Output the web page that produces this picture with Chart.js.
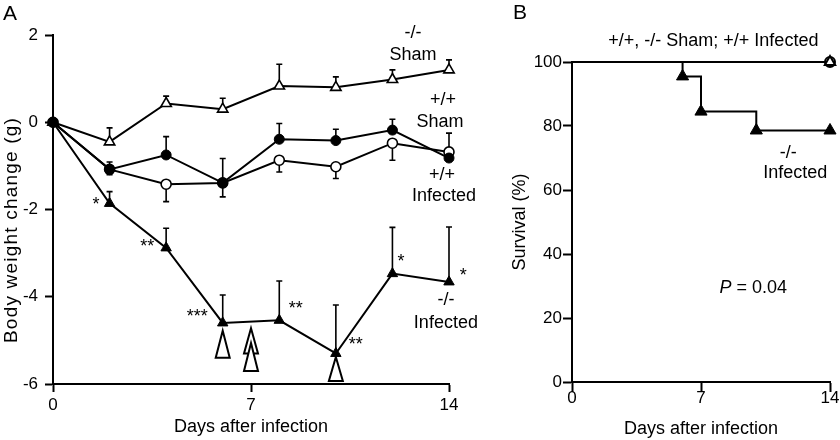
<!DOCTYPE html>
<html>
<head>
<meta charset="utf-8">
<script src="https://cdn.jsdelivr.net/npm/chart.js@4.4.0/dist/chart.umd.min.js"></script>
<style>
  body { margin: 0; background: #fff; }
  #wrap { position: relative; width: 840px; height: 440px; }
  #chartA { position: absolute; left: 0; top: 0; }
  #chartB { position: absolute; left: 480px; top: 0; }
</style>
</head>
<body>
<div id="wrap">
  <canvas id="chartA" width="480" height="440"></canvas>
  <canvas id="chartB" width="360" height="440"></canvas>
</div>
<script>
// ---- Panel A: body weight change (g), mean with one-sided SEM bars
const days = [0, 2, 4, 6, 8, 10, 12, 14];
const shamWT = [0, -1.08, -0.75, -1.39, -0.39, -0.42, -0.18, -0.82];
const shamWTErr = [0, 0.17, 0.42, 0.56, 0.36, 0.26, 0.25, 0.57];
const infWT = [0, -1.08, -1.42, -1.39, -0.87, -1.02, -0.48, -0.68];
const infWTErr = [0, 0.12, 0.40, 0.32, 0.27, 0.27, 0.39, 0.10];
const shamKO = [0, -0.45, 0.43, 0.30, 0.83, 0.80, 0.98, 1.20];
const shamKOErr = [0, 0.32, 0.17, 0.25, 0.50, 0.24, 0.22, 0.23];
const infKO = [0, -1.86, -2.88, -4.60, -4.54, -5.30, -3.47, -3.66];
const infKOErr = [0, 0.27, 0.45, 0.64, 0.90, 1.11, 1.06, 1.26];

// significance marks next to the -/- infected curve
const starText = ['*', '**', '***', '**', '**', '*', '*'];
const starDays = [1.52, 3.33, 5.1, 8.58, 10.7, 12.3, 14.5];
const starVals = [-1.79, -2.75, -4.35, -4.17, -5.0, -3.1, -3.4];

// open arrows under the curve (deaths)
const arrowDays = [6, 7, 7, 10];
const arrowTops = [-4.78, -4.72, -5.06, -5.38];
const arrowBases = [-5.4, -5.3, -5.7, -5.93];

const xTicksA = [0, 7, 14];
const yTicksA = [2, 0, -2, -4, -6];

// ---- Panel B: survival (%)
const survDaysCtrl = [0, 14];
const survCtrl = [100, 100];
const survDaysKO = [0, 6, 7, 10, 14];
const survKO = [100, 95.5, 84.5, 78.6, 78.6];
const xTicksB = [0, 7, 14];
const yTicksB = [0, 20, 40, 60, 80, 100];

const FONT = "'Liberation Sans', Arial, Helvetica, sans-serif";
Chart.defaults.font.family = FONT;
Chart.defaults.color = '#000';

const pts = (xs, ys) => xs.map((x, i) => ({ x: x, y: ys[i] }));

const errorBars = {
  id: 'errorBars',
  beforeDatasetsDraw(chart) {
    const ctx = chart.ctx;
    const ys = chart.scales.y;
    chart.data.datasets.forEach((ds, i) => {
      if (!ds.errors) return;
      const meta = chart.getDatasetMeta(i);
      ctx.save();
      ctx.strokeStyle = '#000';
      ctx.lineWidth = 1.6;
      meta.data.forEach((p, j) => {
        const e = ds.errors[j];
        if (!e) return;
        const end = ys.getPixelForValue(ds.data[j].y + ds.errDir * e);
        ctx.beginPath();
        ctx.moveTo(p.x, p.y);
        ctx.lineTo(p.x, end);
        ctx.moveTo(p.x - 3, end);
        ctx.lineTo(p.x + 3, end);
        ctx.stroke();
      });
      ctx.restore();
    });
  }
};

const arrows = {
  id: 'arrows',
  afterDatasetsDraw(chart, args, opts) {
    if (!opts.days) return;
    const ctx = chart.ctx;
    const { x, y } = chart.scales;
    ctx.save();
    ctx.lineWidth = 2;
    ctx.strokeStyle = '#000';
    ctx.fillStyle = '#fff';
    opts.days.forEach((d, i) => {
      const px = x.getPixelForValue(d);
      const top = y.getPixelForValue(opts.tops[i]);
      const base = y.getPixelForValue(opts.bases[i]);
      ctx.beginPath();
      ctx.moveTo(px, top);
      ctx.lineTo(px + 7, base);
      ctx.lineTo(px - 7, base);
      ctx.closePath();
      ctx.fill();
      ctx.stroke();
    });
    ctx.restore();
  }
};

const textLabels = {
  id: 'textLabels',
  afterDraw(chart, args, opts) {
    const ctx = chart.ctx;
    const { x, y } = chart.scales;
    ctx.save();
    ctx.fillStyle = '#000';
    ctx.textBaseline = 'middle';
    (opts.items || []).forEach(t => {
      const px = t.px !== undefined ? t.px : x.getPixelForValue(t.x);
      const py = t.py !== undefined ? t.py : y.getPixelForValue(t.y);
      if (t.parts) {
        let w = 0;
        t.parts.forEach(p => { ctx.font = p.font; w += ctx.measureText(p.text).width; });
        let cx = px - w / 2;
        ctx.textAlign = 'left';
        t.parts.forEach(p => { ctx.font = p.font; ctx.fillText(p.text, cx, py); cx += ctx.measureText(p.text).width; });
        return;
      }
      ctx.font = t.font || '18px ' + FONT;
      ctx.textAlign = t.align || 'center';
      if (t.rotate) {
        ctx.save();
        ctx.translate(px, py);
        ctx.rotate(t.rotate);
        if (t.spacing) ctx.letterSpacing = t.spacing;
        ctx.fillText(t.text, 0, 0);
        ctx.restore();
        return;
      }
      ctx.fillText(t.text, px, py + (t.dy || 0));
    });
    ctx.restore();
  }
};

function axisStyle(extra) {
  return Object.assign({
    grid: { display: true, drawOnChartArea: false, drawTicks: true, tickLength: 8, tickWidth: 2, tickColor: '#000', color: '#000' },
    border: { display: true, color: '#000', width: 2 },
    ticks: { color: '#000', font: { size: 17 }, maxRotation: 0, autoSkip: false }
  }, extra);
}

const labelsA = [
  { text: '-/-', x: 12.73, y: 2.05 },
  { text: 'Sham', x: 12.73, y: 1.54 },
  { text: '+/+', x: 13.79, y: 0.51 },
  { text: 'Sham', x: 13.68, y: 0.0 },
  { text: '+/+', x: 13.75, y: -1.21 },
  { text: 'Infected', x: 13.82, y: -1.69 },
  { text: '-/-', x: 13.89, y: -4.08 },
  { text: 'Infected', x: 13.89, y: -4.61 },
  { text: 'A', px: 10, py: 14, font: '21px ' + FONT },
  // y axis title, a little wider than the tick font as in the original figure
  { text: 'Body weight change (g)', px: 12, py: 230, rotate: -Math.PI / 2, spacing: '1.2px', font: '19px ' + FONT }
];
starText.forEach((s, i) => labelsA.push({ text: s, x: starDays[i], y: starVals[i], dy: 5 }));

new Chart(document.getElementById('chartA'), {
  type: 'line',
  data: {
    datasets: [
      { label: '+/+ Sham', data: pts(days, shamWT), errors: shamWTErr, errDir: 1,
        borderColor: '#000', borderWidth: 2, pointStyle: 'circle', pointRadius: 5,
        pointBackgroundColor: '#000', pointBorderColor: '#000', pointBorderWidth: 1, clip: false },
      { label: '+/+ Infected', data: pts(days, infWT), errors: infWTErr, errDir: -1,
        borderColor: '#000', borderWidth: 2, pointStyle: 'circle', pointRadius: 5,
        pointBackgroundColor: '#fff', pointBorderColor: '#000', pointBorderWidth: 1.6, clip: false },
      { label: '-/- Sham', data: pts(days, shamKO), errors: shamKOErr, errDir: 1,
        borderColor: '#000', borderWidth: 2, pointStyle: 'triangle', pointRadius: 6,
        pointBackgroundColor: '#fff', pointBorderColor: '#000', pointBorderWidth: 1.6, clip: false },
      { label: '-/- Infected', data: pts(days, infKO), errors: infKOErr, errDir: 1,
        borderColor: '#000', borderWidth: 2, pointStyle: 'triangle', pointRadius: 6,
        pointBackgroundColor: '#000', pointBorderColor: '#000', pointBorderWidth: 1, clip: false }
    ]
  },
  options: {
    responsive: false,
    animation: false,
    devicePixelRatio: 1,
    layout: { padding: { left: 0, top: 35, right: 31, bottom: 0 } },
    plugins: {
      legend: { display: false },
      tooltip: { enabled: false },
      arrows: { days: arrowDays, tops: arrowTops, bases: arrowBases },
      textLabels: { items: labelsA }
    },
    scales: {
      x: axisStyle({
        type: 'linear', min: 0, max: 14,
        afterBuildTicks: s => { s.ticks = xTicksA.map(v => ({ value: v })); },
        ticks: { color: '#000', font: { size: 17 }, maxRotation: 0, autoSkip: false, padding: 3 },
        title: { display: true, text: 'Days after infection', font: { size: 18 }, color: '#000', padding: { top: 0, bottom: 2 } },
        afterFit: s => { s.height = 56; }
      }),
      y: axisStyle({
        type: 'linear', min: -6, max: 2,
        afterBuildTicks: s => { s.ticks = yTicksA.map(v => ({ value: v })); },
        ticks: { color: '#000', font: { size: 17 }, autoSkip: false, padding: 7 },
        afterFit: s => { s.width = 53; }
      })
    }
  },
  plugins: [errorBars, arrows, textLabels]
});

const labelsB = [
  { text: '+/+, -/- Sham; +/+ Infected', x: 7.67, y: 106.4 },
  { text: '-/-', x: 11.74, y: 71.6 },
  { text: 'Infected', x: 12.12, y: 65.3 },
  { x: 9.83, y: 29.3, parts: [
    { text: 'P', font: 'italic 18px ' + FONT },
    { text: ' = 0.04', font: '18px ' + FONT }
  ] },
  { text: 'B', px: 40, py: 13, font: '21px ' + FONT }
];

new Chart(document.getElementById('chartB'), {
  type: 'line',
  data: {
    datasets: [
      { label: '+/+ circle', data: pts([14], [100]), showLine: false, pointStyle: 'circle', pointRadius: 5,
        pointBackgroundColor: 'rgba(0,0,0,0)', pointBorderColor: '#000', pointBorderWidth: 2, clip: false },
      { label: '+/+, -/- Sham; +/+ Infected', data: pts(survDaysCtrl, survCtrl), borderColor: '#000', borderWidth: 2,
        pointStyle: 'triangle', pointRadius: [0, 6], pointBackgroundColor: '#fff', pointBorderColor: '#000',
        pointBorderWidth: 2, clip: false },
      { label: '-/- Infected', data: pts(survDaysKO, survKO), stepped: true, borderColor: '#000', borderWidth: 2,
        pointStyle: 'triangle', pointRadius: [0, 7, 7, 7, 7], pointBackgroundColor: '#000', pointBorderColor: '#000',
        pointBorderWidth: 1, clip: false }
    ]
  },
  options: {
    responsive: false,
    animation: false,
    devicePixelRatio: 1,
    layout: { padding: { left: 0, top: 62, right: 10, bottom: 0 } },
    plugins: {
      legend: { display: false },
      tooltip: { enabled: false },
      textLabels: { items: labelsB }
    },
    scales: {
      x: axisStyle({
        type: 'linear', min: 0, max: 14,
        afterBuildTicks: s => { s.ticks = xTicksB.map(v => ({ value: v })); },
        grid: { display: true, drawOnChartArea: false, drawTicks: true, tickLength: 10, tickWidth: 2, tickColor: '#000', color: '#000' },
        ticks: { color: '#000', font: { size: 17 }, maxRotation: 0, autoSkip: false, padding: -4 },
        title: { display: true, text: 'Days after infection', font: { size: 18 }, color: '#000', padding: { top: 0, bottom: 0 } },
        afterFit: s => { s.height = 58; }
      }),
      y: axisStyle({
        type: 'linear', min: 0, max: 100,
        afterBuildTicks: s => { s.ticks = yTicksB.map(v => ({ value: v })); },
        grid: { display: true, drawOnChartArea: false, drawTicks: true, tickLength: 9, tickWidth: 2, tickColor: '#000', color: '#000' },
        ticks: { color: '#000', font: { size: 17 }, autoSkip: false, padding: 1 },
        title: { display: true, text: 'Survival (%)', font: { size: 18 }, color: '#000', padding: { top: 29, bottom: 0 } },
        afterFit: s => { s.width = 92; }
      })
    }
  },
  plugins: [textLabels]
});
</script>
</body>
</html>
